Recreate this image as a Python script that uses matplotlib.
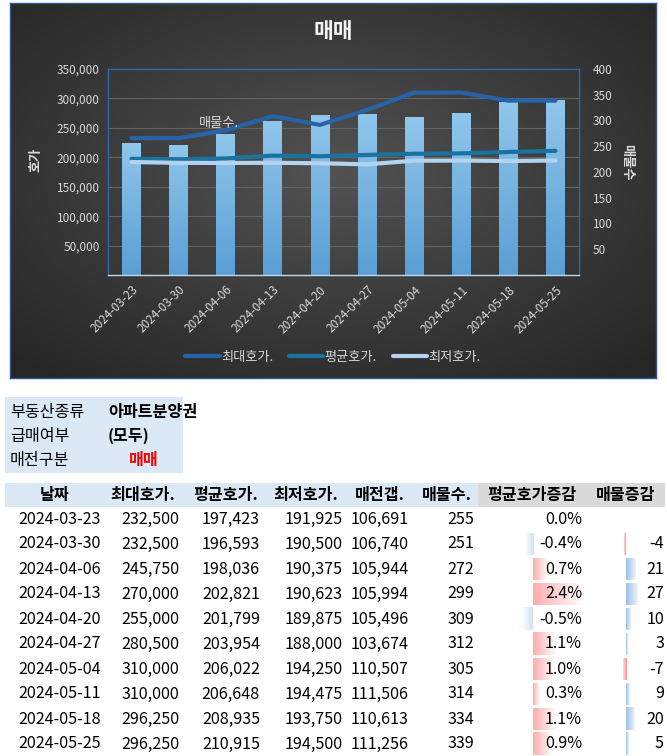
import numpy as np
import matplotlib
matplotlib.use('Agg')
import matplotlib.pyplot as plt
from matplotlib.colors import LinearSegmentedColormap
from matplotlib.patches import Rectangle

plt.rcParams['font.family'] = ['Noto Sans CJK KR', 'DejaVu Sans']

# data
dates = ['2024-03-23', '2024-03-30', '2024-04-06', '2024-04-13', '2024-04-20',
         '2024-04-27', '2024-05-04', '2024-05-11', '2024-05-18', '2024-05-25']
max_price = [232500, 232500, 245750, 270000, 255000, 280500, 310000, 310000, 296250, 296250]
avg_price = [197423, 196593, 198036, 202821, 201799, 203954, 206022, 206648, 208935, 210915]
min_price = [191925, 190500, 190375, 190623, 189875, 188000, 194250, 194475, 193750, 194500]
gap = [106691, 106740, 105944, 105994, 105496, 103674, 110507, 111506, 110613, 111256]
listings = [255, 251, 272, 299, 309, 312, 305, 314, 334, 339]
avg_change = [0.0, -0.4, 0.7, 2.4, -0.5, 1.1, 1.0, 0.3, 1.1, 0.9]
listing_change = [None, -4, 21, 27, 10, 3, -7, 9, 20, 5]

filter_keys = ['부동산종류', '급매여부', '매전구분']
filter_vals = ['아파트분양권', '(모두)', '매매']
headers = ['날짜', '최대호가.', '평균호가.', '최저호가.', '매전갭.', '매물수.', '평균호가증감', '매물증감']

W, H = 667, 756


def rect(x, y, w, h):
    # pixel box, top-left origin -> figure fraction
    return [x / W, 1 - (y + h) / H, w / W, h / H]


def gradient(ax, patch, c_from, c_to, vertical=False):
    x0, y0 = patch.get_x(), patch.get_y()
    w, h = patch.get_width(), patch.get_height()
    cmap = LinearSegmentedColormap.from_list('g', [c_from, c_to])
    arr = np.linspace(0, 1, 64).reshape(-1, 1) if vertical else np.linspace(0, 1, 64).reshape(1, -1)
    ax.imshow(arr, cmap=cmap, extent=(x0, x0 + w, y0, y0 + h), origin='lower',
              aspect='auto', clip_path=patch, zorder=patch.get_zorder(), interpolation='bilinear')
    patch.set_facecolor('none')


fig = plt.figure(figsize=(W / 100, H / 100), dpi=100)

# ---- chart ----
bg = fig.add_axes(rect(10, 3, 646, 375), zorder=0)
yy, xx = np.mgrid[-1:1:200j, -1:1:300j]
r = np.clip(np.sqrt(xx ** 2 + (yy + 0.1) ** 2) / 1.414, 0, 1)
bg.imshow(r, cmap=LinearSegmentedColormap.from_list('bg', ['#525252', '#262626']),
          extent=(0, 1, 0, 1), aspect='auto', vmin=0, vmax=1)
bg.set_xticks([])
bg.set_yticks([])
for s in bg.spines.values():
    s.set_color('#2f5597')
    s.set_linewidth(1)

pos = rect(108, 69, 471, 206)
x = np.arange(len(dates))

ax = fig.add_axes(pos, zorder=1)
ax.patch.set_visible(False)
axb = ax.twinx()
axb.set_zorder(2)
axl = fig.add_axes(pos, sharex=ax, sharey=ax, zorder=3)
axl.patch.set_visible(False)

bars = axb.bar(x, listings, width=0.4, color='#78b6e3', zorder=2)
for b in bars:
    gradient(axb, b, '#5a9fd4', '#8fc6ec', vertical=True)
axb.set_ylim(0, 400)
axb.set_yticks(range(50, 401, 50))

axl.plot(x, max_price, color='#2763a8', lw=3, label='최대호가.', solid_joinstyle='round', solid_capstyle='round')
axl.plot(x, avg_price, color='#1a739f', lw=3, label='평균호가.', solid_joinstyle='round', solid_capstyle='round')
axl.plot(x, min_price, color='#b4d3ef', lw=3, label='최저호가.', solid_joinstyle='round', solid_capstyle='round')
axl.text(1.85, 258000, '매물수.', color='#d9d9d9', fontsize=9.5, ha='center', va='center')

ax.set_xlim(-0.5, 9.5)
ax.set_ylim(0, 350000)
ax.set_yticks(range(50000, 350001, 50000))
ax.yaxis.set_major_formatter(lambda v, p: f'{v:,.0f}')
ax.set_xticks(x)
ax.set_xticklabels(dates, rotation=45, ha='right', rotation_mode='anchor')
ax.grid(axis='y', color='#636363', linewidth=0.8)
ax.tick_params(colors='#d9d9d9', length=0, labelsize=8.5, pad=6)
axb.tick_params(colors='#d9d9d9', length=0, labelsize=8.5, pad=10)
axl.tick_params(left=False, bottom=False, labelleft=False, labelbottom=False)
for a in (ax, axb):
    for s in a.spines.values():
        s.set_visible(False)
for s in axl.spines.values():
    s.set_color('#2e6aa8')
    s.set_linewidth(1)
axl.spines['bottom'].set_color('#bdd7ee')

fig.text(333 / W, 1 - 32 / H, '매매', fontsize=15.5, fontweight='bold', color='#f2f2f2', ha='center', va='center')
fig.text(35 / W, 1 - 160 / H, '호가', rotation=90, fontsize=9.5, fontweight='bold', color='#d9d9d9', ha='center', va='center')
fig.text(627 / W, 1 - 162 / H, '매물수', rotation=270, fontsize=9.5, fontweight='bold', color='#d9d9d9', ha='center', va='center')

handles, labels = axl.get_legend_handles_labels()
fig.legend(handles, labels, loc='center', bbox_to_anchor=(333 / W, 1 - 357 / H), ncol=3, frameon=False,
           fontsize=9.5, labelcolor='#d9d9d9', handlelength=2.6, handletextpad=0.1, columnspacing=1.2)

# ---- sheet table ----
tab = fig.add_axes([0, 0, 1, 1], zorder=-1)
tab.set_xlim(0, W)
tab.set_ylim(H, 0)
tab.axis('off')
fs = 11.6

tab.add_patch(Rectangle((5, 397), 178, 76, color='#dbe8f6', lw=0))
for i, (k, v) in enumerate(zip(filter_keys, filter_vals)):
    yk = 412 + 24 * i
    tab.text(10, yk, k, fontsize=fs, va='center', ha='left')
    if i == 2:
        tab.text(144, yk, v, fontsize=fs, va='center', ha='center', color='#ff0000', fontweight='bold')
    else:
        tab.text(108, yk, v, fontsize=fs, va='center', ha='left', fontweight='bold')

tab.add_patch(Rectangle((5, 483), 473, 24, color='#dbe8f6', lw=0))
tab.add_patch(Rectangle((478, 483), 187, 24, color='#d9d9d9', lw=0))
col_centers = [55, 143, 226, 306, 380, 447, 532, 626]
col_right = [101, 179, 260, 343, 409, 474, 582, 664]
for cx, hd in zip(col_centers, headers):
    tab.text(cx, 495, hd, fontsize=fs, fontweight='bold', ha='center', va='center')

for i in range(len(dates)):
    yr = 519 + 25 * i
    cells = [dates[i], f'{max_price[i]:,}', f'{avg_price[i]:,}', f'{min_price[i]:,}', f'{gap[i]:,}',
             f'{listings[i]}', f'{avg_change[i]:.1f}%',
             '' if listing_change[i] is None else f'{listing_change[i]}']
    for xr, c in zip(col_right, cells):
        tab.text(xr, yr, c, fontsize=fs, ha='right', va='center')

# data bars inside the two change columns (drawn under the sheet text)
rows = np.arange(len(dates))
axp = fig.add_axes(rect(479, 506.5, 105, 250), zorder=-2)
pb = axp.barh(rows, avg_change, height=0.88)
for b, v in zip(pb, avg_change):
    gradient(axp, b, '#ffadad' if v >= 0 else '#d3e2f3', '#ffffff')
axp.set_ylim(9.5, -0.5)
axp.set_xlim((479 - 533) / 21.25, (584 - 533) / 21.25)
axp.axis('off')

cnt_rows = [i for i, v in enumerate(listing_change) if v is not None]
cnt_vals = [v for v in listing_change if v is not None]
axc = fig.add_axes(rect(584, 506.5, 81, 250), zorder=-2)
cb = axc.barh(cnt_rows, cnt_vals, height=0.88)
for b, v in zip(cb, cnt_vals):
    gradient(axc, b, '#9bc2e6' if v >= 0 else '#ff8a8a', '#eef4fb' if v >= 0 else '#ffe0e0')
axc.set_ylim(9.5, -0.5)
axc.set_xlim((584 - 626) / 0.444, (665 - 626) / 0.444)
axc.axis('off')

fig.savefig('out.png', dpi=100)
